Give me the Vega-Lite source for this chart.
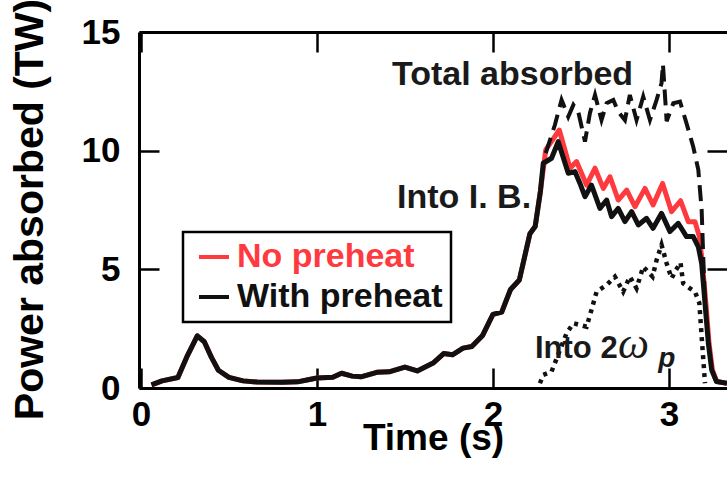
{
  "$schema": "https://vega.github.io/schema/vega-lite/v6.json",
  "width": 588,
  "height": 356,
  "autosize": "none",
  "padding": {"left": 139, "top": 32, "right": 0, "bottom": 91},
  "background": "white",
  "config": {
    "view": {"stroke": null},
    "font": "Liberation Sans",
    "legend": {"strokeWidth": 2.5}
  },
  "datasets": {
    "curves": [
      {"series": "No preheat", "t": 0.06, "P": 0.13}, {"series": "No preheat", "t": 0.12, "P": 0.3}, {"series": "No preheat", "t": 0.21, "P": 0.44}, {"series": "No preheat", "t": 0.26, "P": 1.3}, {"series": "No preheat", "t": 0.32, "P": 2.2}, {"series": "No preheat", "t": 0.36, "P": 1.95}, {"series": "No preheat", "t": 0.4, "P": 1.3}, {"series": "No preheat", "t": 0.44, "P": 0.75}, {"series": "No preheat", "t": 0.5, "P": 0.45}, {"series": "No preheat", "t": 0.58, "P": 0.3}, {"series": "No preheat", "t": 0.66, "P": 0.25}, {"series": "No preheat", "t": 0.8, "P": 0.24}, {"series": "No preheat", "t": 0.89, "P": 0.26}, {"series": "No preheat", "t": 0.95, "P": 0.35}, {"series": "No preheat", "t": 1.0, "P": 0.42}, {"series": "No preheat", "t": 1.09, "P": 0.45}, {"series": "No preheat", "t": 1.14, "P": 0.62}, {"series": "No preheat", "t": 1.2, "P": 0.5}, {"series": "No preheat", "t": 1.25, "P": 0.47}, {"series": "No preheat", "t": 1.34, "P": 0.66}, {"series": "No preheat", "t": 1.41, "P": 0.68}, {"series": "No preheat", "t": 1.5, "P": 0.88}, {"series": "No preheat", "t": 1.57, "P": 0.72}, {"series": "No preheat", "t": 1.66, "P": 1.05}, {"series": "No preheat", "t": 1.72, "P": 1.45}, {"series": "No preheat", "t": 1.77, "P": 1.4}, {"series": "No preheat", "t": 1.83, "P": 1.68}, {"series": "No preheat", "t": 1.88, "P": 1.75}, {"series": "No preheat", "t": 1.94, "P": 2.2}, {"series": "No preheat", "t": 2.0, "P": 3.1}, {"series": "No preheat", "t": 2.05, "P": 3.2}, {"series": "No preheat", "t": 2.1, "P": 4.15}, {"series": "No preheat", "t": 2.15, "P": 4.55}, {"series": "No preheat", "t": 2.21, "P": 6.5}, {"series": "No preheat", "t": 2.24, "P": 6.8}, {"series": "No preheat", "t": 2.27, "P": 8.3},
      {"series": "No preheat", "t": 2.3, "P": 10.03}, {"series": "No preheat", "t": 2.377, "P": 10.87}, {"series": "No preheat", "t": 2.438, "P": 9.26}, {"series": "No preheat", "t": 2.475, "P": 9.54}, {"series": "No preheat", "t": 2.532, "P": 8.55}, {"series": "No preheat", "t": 2.58, "P": 9.26}, {"series": "No preheat", "t": 2.627, "P": 8.41}, {"series": "No preheat", "t": 2.665, "P": 8.9}, {"series": "No preheat", "t": 2.712, "P": 7.92}, {"series": "No preheat", "t": 2.76, "P": 8.34}, {"series": "No preheat", "t": 2.807, "P": 7.64}, {"series": "No preheat", "t": 2.864, "P": 8.41}, {"series": "No preheat", "t": 2.91, "P": 7.71}, {"series": "No preheat", "t": 2.964, "P": 8.62}, {"series": "No preheat", "t": 3.015, "P": 7.43}, {"series": "No preheat", "t": 3.066, "P": 7.89}, {"series": "No preheat", "t": 3.11, "P": 7.01}, {"series": "No preheat", "t": 3.148, "P": 7.01}, {"series": "No preheat", "t": 3.173, "P": 6.38}, {"series": "No preheat", "t": 3.19, "P": 5.25}, {"series": "No preheat", "t": 3.21, "P": 3.57}, {"series": "No preheat", "t": 3.228, "P": 1.88}, {"series": "No preheat", "t": 3.247, "P": 0.76}, {"series": "No preheat", "t": 3.272, "P": 0.27}, {"series": "No preheat", "t": 3.33, "P": 0.2},

      {"series": "With preheat", "t": 0.06, "P": 0.13}, {"series": "With preheat", "t": 0.12, "P": 0.3}, {"series": "With preheat", "t": 0.21, "P": 0.44}, {"series": "With preheat", "t": 0.26, "P": 1.3}, {"series": "With preheat", "t": 0.32, "P": 2.2}, {"series": "With preheat", "t": 0.36, "P": 1.95}, {"series": "With preheat", "t": 0.4, "P": 1.3}, {"series": "With preheat", "t": 0.44, "P": 0.75}, {"series": "With preheat", "t": 0.5, "P": 0.45}, {"series": "With preheat", "t": 0.58, "P": 0.3}, {"series": "With preheat", "t": 0.66, "P": 0.25}, {"series": "With preheat", "t": 0.8, "P": 0.24}, {"series": "With preheat", "t": 0.89, "P": 0.26}, {"series": "With preheat", "t": 0.95, "P": 0.35}, {"series": "With preheat", "t": 1.0, "P": 0.42}, {"series": "With preheat", "t": 1.09, "P": 0.45}, {"series": "With preheat", "t": 1.14, "P": 0.62}, {"series": "With preheat", "t": 1.2, "P": 0.5}, {"series": "With preheat", "t": 1.25, "P": 0.47}, {"series": "With preheat", "t": 1.34, "P": 0.66}, {"series": "With preheat", "t": 1.41, "P": 0.68}, {"series": "With preheat", "t": 1.5, "P": 0.88}, {"series": "With preheat", "t": 1.57, "P": 0.72}, {"series": "With preheat", "t": 1.66, "P": 1.05}, {"series": "With preheat", "t": 1.72, "P": 1.45}, {"series": "With preheat", "t": 1.77, "P": 1.4}, {"series": "With preheat", "t": 1.83, "P": 1.68}, {"series": "With preheat", "t": 1.88, "P": 1.75}, {"series": "With preheat", "t": 1.94, "P": 2.2}, {"series": "With preheat", "t": 2.0, "P": 3.1}, {"series": "With preheat", "t": 2.05, "P": 3.2}, {"series": "With preheat", "t": 2.1, "P": 4.15}, {"series": "With preheat", "t": 2.15, "P": 4.55}, {"series": "With preheat", "t": 2.21, "P": 6.5}, {"series": "With preheat", "t": 2.24, "P": 6.8}, {"series": "With preheat", "t": 2.27, "P": 8.3},
      {"series": "With preheat", "t": 2.286, "P": 9.47}, {"series": "With preheat", "t": 2.333, "P": 9.68}, {"series": "With preheat", "t": 2.371, "P": 10.38}, {"series": "With preheat", "t": 2.428, "P": 9.05}, {"series": "With preheat", "t": 2.466, "P": 9.12}, {"series": "With preheat", "t": 2.494, "P": 8.63}, {"series": "With preheat", "t": 2.523, "P": 8.06}, {"series": "With preheat", "t": 2.56, "P": 8.55}, {"series": "With preheat", "t": 2.608, "P": 7.57}, {"series": "With preheat", "t": 2.646, "P": 7.92}, {"series": "With preheat", "t": 2.674, "P": 7.22}, {"series": "With preheat", "t": 2.712, "P": 7.57}, {"series": "With preheat", "t": 2.75, "P": 7.01}, {"series": "With preheat", "t": 2.788, "P": 7.43}, {"series": "With preheat", "t": 2.826, "P": 6.87}, {"series": "With preheat", "t": 2.873, "P": 7.15}, {"series": "With preheat", "t": 2.91, "P": 6.73}, {"series": "With preheat", "t": 2.958, "P": 7.36}, {"series": "With preheat", "t": 3.006, "P": 6.59}, {"series": "With preheat", "t": 3.053, "P": 6.94}, {"series": "With preheat", "t": 3.1, "P": 6.38}, {"series": "With preheat", "t": 3.138, "P": 6.38}, {"series": "With preheat", "t": 3.167, "P": 5.95}, {"series": "With preheat", "t": 3.186, "P": 5.25}, {"series": "With preheat", "t": 3.205, "P": 3.57}, {"series": "With preheat", "t": 3.224, "P": 1.88}, {"series": "With preheat", "t": 3.243, "P": 0.76}, {"series": "With preheat", "t": 3.27, "P": 0.27}, {"series": "With preheat", "t": 3.33, "P": 0.2},

      {"series": "Total", "t": 2.3, "P": 9.9}, {"series": "Total", "t": 2.352, "P": 11.08}, {"series": "Total", "t": 2.39, "P": 12.14}, {"series": "Total", "t": 2.428, "P": 11.43}, {"series": "Total", "t": 2.457, "P": 11.93}, {"series": "Total", "t": 2.485, "P": 11.64}, {"series": "Total", "t": 2.523, "P": 10.38}, {"series": "Total", "t": 2.551, "P": 11.58}, {"series": "Total", "t": 2.58, "P": 12.35}, {"series": "Total", "t": 2.617, "P": 11.29}, {"series": "Total", "t": 2.646, "P": 12.0}, {"series": "Total", "t": 2.684, "P": 12.14}, {"series": "Total", "t": 2.712, "P": 11.64}, {"series": "Total", "t": 2.75, "P": 11.29}, {"series": "Total", "t": 2.778, "P": 12.35}, {"series": "Total", "t": 2.816, "P": 11.29}, {"series": "Total", "t": 2.854, "P": 12.28}, {"series": "Total", "t": 2.892, "P": 11.29}, {"series": "Total", "t": 2.93, "P": 12.14}, {"series": "Total", "t": 2.958, "P": 12.84}, {"series": "Total", "t": 2.966, "P": 13.65}, {"series": "Total", "t": 2.987, "P": 11.24}, {"series": "Total", "t": 3.025, "P": 12.0}, {"series": "Total", "t": 3.063, "P": 12.07}, {"series": "Total", "t": 3.1, "P": 11.15}, {"series": "Total", "t": 3.138, "P": 10.17}, {"series": "Total", "t": 3.167, "P": 9.19}, {"series": "Total", "t": 3.186, "P": 7.5}, {"series": "Total", "t": 3.195, "P": 5.53}, {"series": "Total", "t": 3.205, "P": 3.57},

      {"series": "2wp", "t": 2.267, "P": 0.2}, {"series": "2wp", "t": 2.286, "P": 0.55}, {"series": "2wp", "t": 2.333, "P": 0.69}, {"series": "2wp", "t": 2.418, "P": 2.3}, {"series": "2wp", "t": 2.457, "P": 2.73}, {"series": "2wp", "t": 2.532, "P": 2.58}, {"series": "2wp", "t": 2.56, "P": 3.29}, {"series": "2wp", "t": 2.589, "P": 4.06}, {"series": "2wp", "t": 2.646, "P": 4.34}, {"series": "2wp", "t": 2.693, "P": 4.69}, {"series": "2wp", "t": 2.74, "P": 4.06}, {"series": "2wp", "t": 2.778, "P": 4.69}, {"series": "2wp", "t": 2.816, "P": 4.2}, {"series": "2wp", "t": 2.854, "P": 5.11}, {"series": "2wp", "t": 2.907, "P": 4.69}, {"series": "2wp", "t": 2.93, "P": 5.39}, {"series": "2wp", "t": 2.958, "P": 6.03}, {"series": "2wp", "t": 2.987, "P": 5.25}, {"series": "2wp", "t": 3.015, "P": 4.62}, {"series": "2wp", "t": 3.04, "P": 4.97}, {"series": "2wp", "t": 3.066, "P": 5.28}, {"series": "2wp", "t": 3.081, "P": 4.41}, {"series": "2wp", "t": 3.119, "P": 4.2}, {"series": "2wp", "t": 3.148, "P": 4.06}, {"series": "2wp", "t": 3.173, "P": 3.57}, {"series": "2wp", "t": 3.186, "P": 2.16}, {"series": "2wp", "t": 3.205, "P": 0.2}
    ],
    "notes": [
      {"note": "Total absorbed", "t": 1.426, "P": 12.77},
      {"note": "Into I. B.", "t": 1.455, "P": 7.59},
      {"note": "Into 2", "t": 2.239, "P": 1.26},
      {"note": "ω", "t": 2.71, "P": 1.26},
      {"note": "p", "t": 2.94, "P": 0.88}
    ]
  },
  "resolve": {"axis": {"x": "independent", "y": "independent"}},
  "layer": [
    {
      "data": {"name": "curves"},
      "transform": [{"filter": "datum.series === 'No preheat'"}],
      "mark": {"type": "line", "strokeWidth": 5, "strokeJoin": "round"},
      "encoding": {
        "x": {"field": "t", "type": "quantitative", "scale": {"domain": [-0.011, 3.33], "nice": false, "zero": false},
          "axis": {"orient": "bottom", "values": [0, 1, 2, 3], "title": "Time (s)", "grid": false,
            "labelFont": "Liberation Sans", "labelFontWeight": "bold", "labelFontSize": 35, "labelColor": "black",
            "labelFlush": false, "labelOverlap": false, "labelBaseline": "alphabetic", "labelPadding": 57,
            "tickSize": -20, "tickWidth": 2.5, "tickColor": "black", "domainColor": "black", "domainWidth": 3,
            "titleFont": "Liberation Sans", "titleFontSize": 37, "titleFontWeight": "bold", "titleColor": "black",
            "titleX": 294, "titleY": 61, "titleBaseline": "alphabetic", "titleAlign": "center"}},
        "y": {"field": "P", "type": "quantitative", "scale": {"domain": [0, 15], "nice": false},
          "axis": {"orient": "left", "values": [0, 5, 10, 15], "title": "Power absorbed (TW)", "grid": false,
            "labelFont": "Liberation Sans", "labelFontWeight": "bold", "labelFontSize": 35, "labelColor": "black",
            "labelFlush": false, "labelOverlap": false, "labelPadding": 39, "labelBaseline": "middle",
            "tickSize": -20, "tickWidth": 2.5, "tickColor": "black", "domainColor": "black", "domainWidth": 3,
            "titleFont": "Liberation Sans", "titleFontSize": 41, "titleFontWeight": "bold", "titleColor": "black",
            "titleX": -97, "titleY": 177, "titleAngle": -90, "titleBaseline": "alphabetic", "titleAlign": "center"}},
        "color": {"field": "series", "type": "nominal",
          "scale": {"domain": ["No preheat", "With preheat"], "range": ["#ff3a3f", "#111111"]},
          "legend": {"title": null, "orient": "none", "legendX": 44, "legendY": 200,
            "strokeColor": "black", "fillColor": "white", "padding": 8,
            "symbolType": "stroke", "symbolSize": 900, "symbolStrokeWidth": 4, "symbolOffset": 6,
            "labelFont": "Liberation Sans", "labelFontWeight": "bold", "labelFontSize": 34, "labelOffset": 6,
            "labelLimit": 400, "rowPadding": 6,
            "encode": {"labels": {"update": {"fill": {"signal": "datum.value === 'No preheat' ? '#ff3a3f' : '#111111'"}}}}}}
      }
    },
    {
      "data": {"name": "curves"},
      "transform": [{"filter": "datum.series === 'With preheat'"}],
      "mark": {"type": "line", "strokeWidth": 5, "strokeJoin": "round"},
      "encoding": {
        "x": {"field": "t", "type": "quantitative", "scale": {"domain": [-0.011, 3.33], "nice": false, "zero": false}, "axis": null},
        "y": {"field": "P", "type": "quantitative", "scale": {"domain": [0, 15], "nice": false}, "axis": null},
        "color": {"field": "series", "type": "nominal",
          "scale": {"domain": ["No preheat", "With preheat"], "range": ["#ff3a3f", "#111111"]}}
      }
    },
    {
      "data": {"name": "curves"},
      "transform": [{"filter": "datum.series === 'Total'"}],
      "mark": {"type": "line", "strokeWidth": 4, "color": "#111111", "strokeDash": [16, 8]},
      "encoding": {
        "x": {"field": "t", "type": "quantitative", "scale": {"domain": [-0.011, 3.33], "nice": false, "zero": false},
          "axis": {"orient": "top", "values": [0, 1, 2, 3], "labels": false, "title": null, "grid": false,
            "tickSize": -20, "tickWidth": 2.5, "tickColor": "black", "domainColor": "black", "domainWidth": 3}},
        "y": {"field": "P", "type": "quantitative", "scale": {"domain": [0, 15], "nice": false},
          "axis": {"orient": "right", "values": [5, 10], "labels": false, "title": null, "grid": false, "domain": false,
            "tickSize": -20, "tickWidth": 2.5, "tickColor": "black"}}
      }
    },
    {
      "data": {"name": "curves"},
      "transform": [{"filter": "datum.series === '2wp'"}],
      "mark": {"type": "line", "strokeWidth": 4.5, "color": "#111111", "strokeDash": [4, 5]},
      "encoding": {
        "x": {"field": "t", "type": "quantitative", "scale": {"domain": [-0.011, 3.33], "nice": false, "zero": false}, "axis": null},
        "y": {"field": "P", "type": "quantitative", "scale": {"domain": [0, 15], "nice": false}, "axis": null}
      }
    },
    {
      "data": {"name": "notes"},
      "transform": [{"filter": "datum.note === 'Total absorbed' || datum.note === 'Into I. B.'"}],
      "mark": {"type": "text", "font": "Liberation Sans", "fontWeight": "bold", "fontSize": 34, "align": "left", "baseline": "alphabetic", "color": "#1a1a1a"},
      "encoding": {
        "x": {"field": "t", "type": "quantitative", "scale": {"domain": [-0.011, 3.33], "nice": false, "zero": false}, "axis": null},
        "y": {"field": "P", "type": "quantitative", "scale": {"domain": [0, 15], "nice": false}, "axis": null},
        "text": {"field": "note"}
      }
    },
    {
      "data": {"name": "notes"},
      "transform": [{"filter": "datum.note === 'Into 2'"}],
      "mark": {"type": "text", "font": "Liberation Sans", "fontWeight": "bold", "fontSize": 31, "align": "left", "baseline": "alphabetic", "color": "#1a1a1a"},
      "encoding": {
        "x": {"field": "t", "type": "quantitative", "scale": {"domain": [-0.011, 3.33], "nice": false, "zero": false}, "axis": null},
        "y": {"field": "P", "type": "quantitative", "scale": {"domain": [0, 15], "nice": false}, "axis": null},
        "text": {"field": "note"}
      }
    },
    {
      "data": {"name": "notes"},
      "transform": [{"filter": "datum.note === 'ω'"}],
      "mark": {"type": "text", "font": "Liberation Serif", "fontStyle": "italic", "fontSize": 44, "align": "left", "baseline": "alphabetic", "color": "#1a1a1a"},
      "encoding": {
        "x": {"field": "t", "type": "quantitative", "scale": {"domain": [-0.011, 3.33], "nice": false, "zero": false}, "axis": null},
        "y": {"field": "P", "type": "quantitative", "scale": {"domain": [0, 15], "nice": false}, "axis": null},
        "text": {"field": "note"}
      }
    },
    {
      "data": {"name": "notes"},
      "transform": [{"filter": "datum.note === 'p'"}],
      "mark": {"type": "text", "font": "Liberation Sans", "fontStyle": "italic", "fontWeight": "bold", "fontSize": 28, "align": "left", "baseline": "alphabetic", "color": "#1a1a1a"},
      "encoding": {
        "x": {"field": "t", "type": "quantitative", "scale": {"domain": [-0.011, 3.33], "nice": false, "zero": false}, "axis": null},
        "y": {"field": "P", "type": "quantitative", "scale": {"domain": [0, 15], "nice": false}, "axis": null},
        "text": {"field": "note"}
      }
    }
  ]
}
